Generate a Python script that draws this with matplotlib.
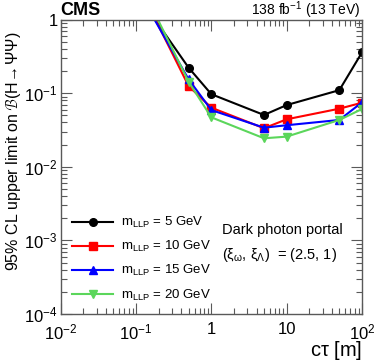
import matplotlib
matplotlib.use("Agg")
import matplotlib.pyplot as plt
from matplotlib.ticker import LogLocator, NullFormatter, FixedLocator, FixedFormatter

plt.rcParams['font.family'] = ['Liberation Sans', 'DejaVu Sans']
plt.rcParams['mathtext.fontset'] = 'custom'
plt.rcParams['mathtext.rm'] = 'Liberation Sans'
plt.rcParams['mathtext.it'] = 'Liberation Sans:italic'

# c*tau [m]
ctau = [0.1, 0.5, 1, 5, 10, 50, 100]

# 95% CL upper limits per LLP mass
lim_5 = [2.35, 0.222, 0.097, 0.0506, 0.069, 0.110, 0.359]
lim_10 = [3.4, 0.125, 0.0636, 0.0334, 0.0442, 0.0616, 0.0743]
lim_15 = [2.77, 0.154, 0.059, 0.034, 0.0367, 0.0433, 0.0752]
lim_20 = [4.0, 0.143, 0.047, 0.0244, 0.0257, 0.0433, 0.061]

labels = [r'm$_{\mathrm{LLP}}$ = 5 GeV', r'm$_{\mathrm{LLP}}$ = 10 GeV',
          r'm$_{\mathrm{LLP}}$ = 15 GeV', r'm$_{\mathrm{LLP}}$ = 20 GeV']

fig = plt.figure(figsize=(3.74, 3.63), dpi=100)
ax = fig.add_axes([0.162, 0.135, 0.806, 0.811])

ax.plot(ctau, lim_5, color='black', marker='o', ms=5.5, lw=1.5, label=labels[0])
ax.plot(ctau, lim_10, color='#ff0000', marker='s', ms=5.5, lw=1.5, label=labels[1])
ax.plot(ctau, lim_15, color='#0000ff', marker='^', ms=6, lw=1.5, label=labels[2])
ax.plot(ctau, lim_20, color='#5bd65b', marker='v', ms=6, lw=1.5, label=labels[3])

ax.set_xscale('log')
ax.set_yscale('log')
ax.set_xlim(1e-2, 1e2)
ax.set_ylim(1e-4, 1)

ax.xaxis.set_major_locator(FixedLocator([1e-2, 1e-1, 1, 10, 100]))
ax.xaxis.set_major_formatter(FixedFormatter([r'$10^{-2}$', r'$10^{-1}$', '1', '10', r'$10^{2}$']))
ax.yaxis.set_major_locator(FixedLocator([1e-4, 1e-3, 1e-2, 1e-1, 1]))
ax.yaxis.set_major_formatter(FixedFormatter([r'$10^{-4}$', r'$10^{-3}$', r'$10^{-2}$', r'$10^{-1}$', '1']))
ax.xaxis.set_minor_locator(LogLocator(base=10, subs=range(2, 10)))
ax.yaxis.set_minor_locator(LogLocator(base=10, subs=range(2, 10)))
ax.xaxis.set_minor_formatter(NullFormatter())
ax.yaxis.set_minor_formatter(NullFormatter())

ax.tick_params(which='both', direction='in', top=True, right=True, color='0.35', labelsize=12)
ax.tick_params(which='major', length=8, width=0.8)
ax.tick_params(which='minor', length=4, width=0.8)
ax.tick_params(axis='x', pad=6)
ax.tick_params(axis='y', pad=2)
for s in ax.spines.values():
    s.set_color('0.35')
    s.set_linewidth(1.0)

ax.set_xlabel(r'c$\mathrm{\tau}$ [m]', fontsize=14.5, ha='right', x=1.0, labelpad=-2)
ax.set_ylabel(r'95% CL upper limit on $\mathcal{B}$(H$\!\rightarrow\!$ΨΨ)', fontsize=11.5,
              ha='right', y=0.96, labelpad=1)

fig.text(0.162, 0.958, 'CMS', fontsize=13, fontweight='bold', ha='left', va='baseline')
fig.text(0.963, 0.958, r'138 fb$^{-1}$ (13 TeV)', fontsize=10, ha='right', va='baseline')

ax.legend(loc='lower left', bbox_to_anchor=(0.012, 0.012), frameon=False, fontsize=9.5,
          handlelength=3.1, handletextpad=0.6, labelspacing=0.68, borderaxespad=0.2)

ax.text(0.535, 0.272, 'Dark photon portal', transform=ax.transAxes, fontsize=10.5, va='baseline')
ax.text(0.535, 0.187, r'($\mathrm{\xi}_{\mathrm{\omega}}$, $\mathrm{\xi}_{\mathrm{\Lambda}}$)  = (2.5, 1)',
        transform=ax.transAxes, fontsize=10.5, va='baseline')

fig.savefig('out.png', dpi=100)
